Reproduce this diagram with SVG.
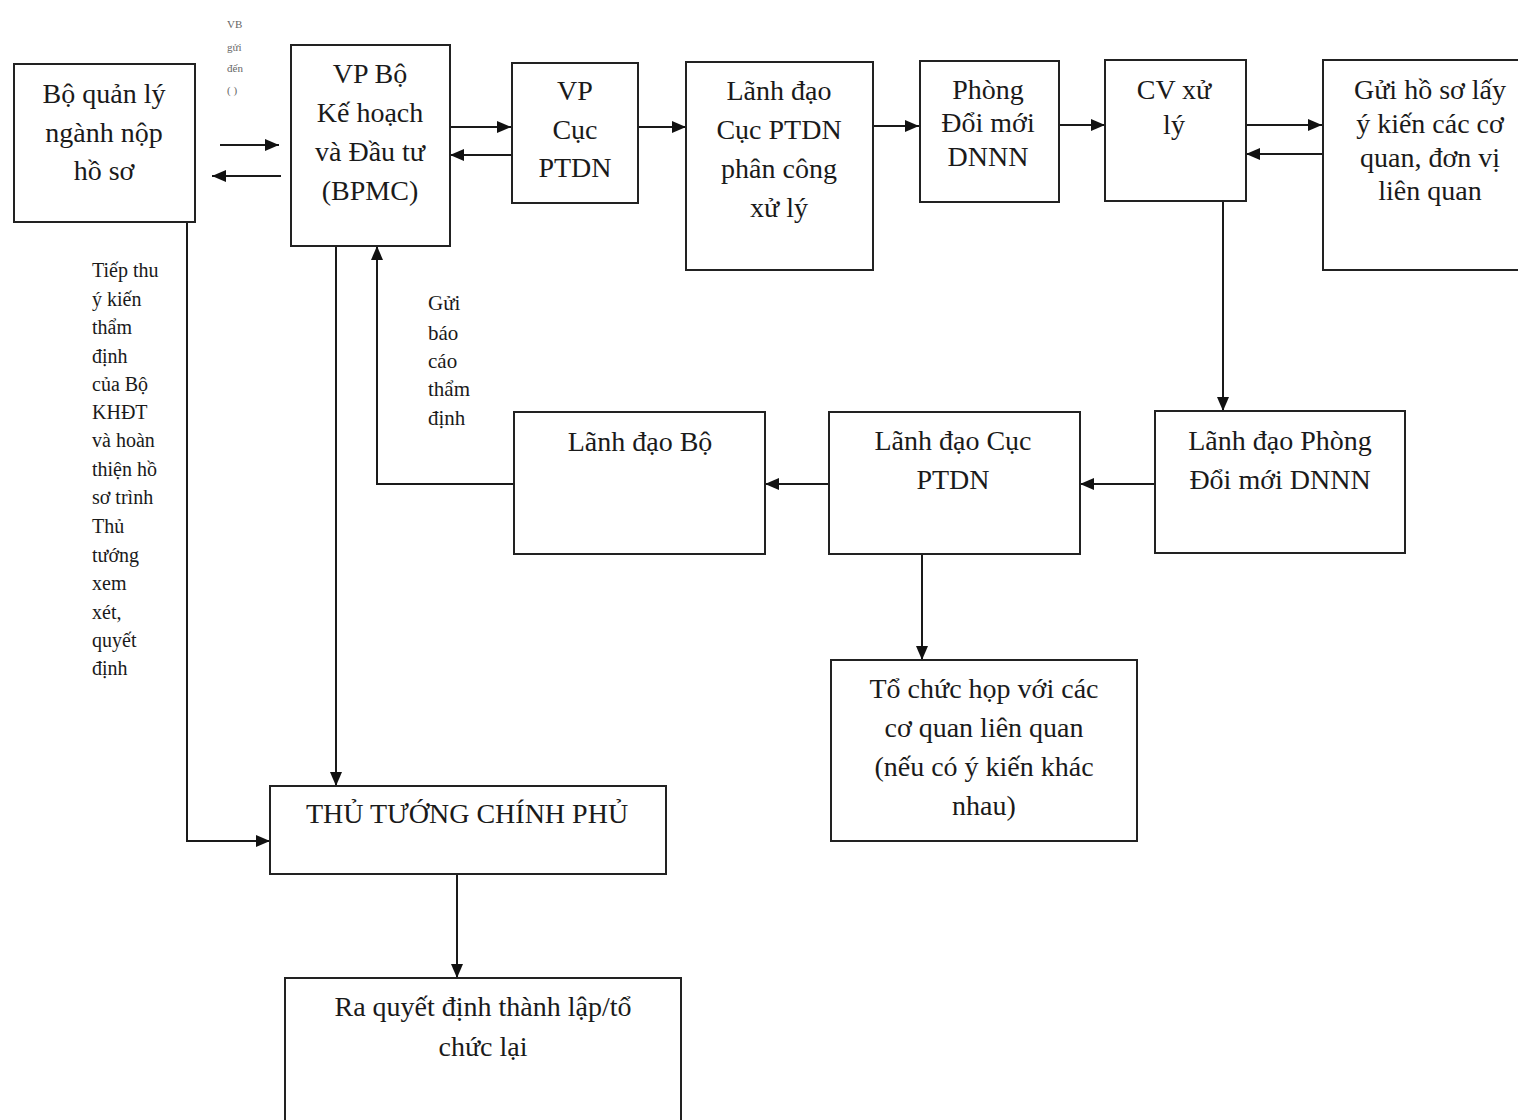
<svg xmlns="http://www.w3.org/2000/svg" width="1518" height="1120" viewBox="0 0 1518 1120">
<defs>
<marker id="ah" viewBox="0 0 14 12" refX="14" refY="6" markerWidth="14" markerHeight="12" markerUnits="userSpaceOnUse" orient="auto">
<path d="M0,0 L14,6 L0,12 z" fill="#111"/>
</marker>
</defs>
<style>
rect.box{fill:#fff;stroke:#222;stroke-width:2}
text{font-family:"Liberation Serif","Times New Roman",serif;fill:#1a1a1a}
.t{font-size:28px;text-anchor:middle}
.s{font-size:20px}
.s2{font-size:21px}
.xs{font-size:11px;fill:#666}
.c line,.c path{stroke:#1a1a1a;stroke-width:2;fill:none}
.c .a{marker-end:url(#ah)}
</style>
<rect width="1518" height="1120" fill="#fff"/>

<g class="c" id="connectors">
<line class="a" x1="220" y1="145" x2="279" y2="145"/>
<line class="a" x1="281" y1="176" x2="212" y2="176"/>
<line class="a" x1="450" y1="127" x2="511" y2="127"/>
<line class="a" x1="511" y1="155" x2="450" y2="155"/>
<line class="a" x1="638" y1="127" x2="686" y2="127"/>
<line class="a" x1="873" y1="126" x2="919" y2="126"/>
<line class="a" x1="1059" y1="125" x2="1105" y2="125"/>
<line class="a" x1="1246" y1="125" x2="1322" y2="125"/>
<line class="a" x1="1322" y1="154" x2="1246" y2="154"/>
<line class="a" x1="1223" y1="201" x2="1223" y2="411"/>
<line class="a" x1="1155" y1="484" x2="1080" y2="484"/>
<line class="a" x1="829" y1="484" x2="765" y2="484"/>
<path class="a" d="M514,484 H377 V246"/>
<line class="a" x1="922" y1="554" x2="922" y2="660"/>
<line class="a" x1="336" y1="246" x2="336" y2="786"/>
<path class="a" d="M187,222 V841 H270"/>
<line class="a" x1="457" y1="874" x2="457" y2="978"/>
</g>

<g id="n1"><rect class="box" x="14" y="64" width="181" height="158"/>
<text class="t" x="104"><tspan x="104" y="103">Bộ quản lý</tspan><tspan x="104" y="142">ngành nộp</tspan><tspan x="104" y="180">hồ sơ</tspan></text></g>

<g id="n2"><rect class="box" x="291" y="45" width="159" height="201"/>
<text class="t"><tspan x="370" y="83">VP Bộ</tspan><tspan x="370" y="122">Kế hoạch</tspan><tspan x="370" y="161">và Đầu tư</tspan><tspan x="370" y="200">(BPMC)</tspan></text></g>

<g id="n3"><rect class="box" x="512" y="63" width="126" height="140"/>
<text class="t"><tspan x="575" y="100">VP</tspan><tspan x="575" y="139">Cục</tspan><tspan x="575" y="177">PTDN</tspan></text></g>

<g id="n4"><rect class="box" x="686" y="62" width="187" height="208"/>
<text class="t"><tspan x="779" y="100">Lãnh đạo</tspan><tspan x="779" y="139">Cục PTDN</tspan><tspan x="779" y="178">phân công</tspan><tspan x="779" y="217">xử lý</tspan></text></g>

<g id="n5"><rect class="box" x="920" y="61" width="139" height="141"/>
<text class="t"><tspan x="988" y="99">Phòng</tspan><tspan x="988" y="132">Đổi mới</tspan><tspan x="988" y="166">DNNN</tspan></text></g>

<g id="n6"><rect class="box" x="1105" y="60" width="141" height="141"/>
<text class="t"><tspan x="1174" y="99">CV xử</tspan><tspan x="1174" y="134">lý</tspan></text></g>

<g id="n7"><rect class="box" x="1323" y="60" width="200" height="210"/>
<text class="t"><tspan x="1430" y="99">Gửi hồ sơ lấy</tspan><tspan x="1430" y="133">ý kiến các cơ</tspan><tspan x="1430" y="167">quan, đơn vị</tspan><tspan x="1430" y="200">liên quan</tspan></text></g>

<g id="n8"><rect class="box" x="514" y="412" width="251" height="142"/>
<text class="t" x="640" y="451">Lãnh đạo Bộ</text></g>

<g id="n9"><rect class="box" x="829" y="412" width="251" height="142"/>
<text class="t"><tspan x="953" y="450">Lãnh đạo Cục</tspan><tspan x="953" y="489">PTDN</tspan></text></g>

<g id="n10"><rect class="box" x="1155" y="411" width="250" height="142"/>
<text class="t"><tspan x="1280" y="450">Lãnh đạo Phòng</tspan><tspan x="1280" y="489">Đổi mới DNNN</tspan></text></g>

<g id="n11"><rect class="box" x="831" y="660" width="306" height="181"/>
<text class="t"><tspan x="984" y="698">Tổ chức họp với các</tspan><tspan x="984" y="737">cơ quan liên quan</tspan><tspan x="984" y="776">(nếu có ý kiến khác</tspan><tspan x="984" y="815">nhau)</tspan></text></g>

<g id="n12"><rect class="box" x="270" y="786" width="396" height="88"/>
<text class="t" x="467" y="823">THỦ TƯỚNG CHÍNH PHỦ</text></g>

<g id="n13"><rect class="box" x="285" y="978" width="396" height="150"/>
<text class="t"><tspan x="483" y="1016">Ra quyết định thành lập/tổ</tspan><tspan x="483" y="1056">chức lại</tspan></text></g>

<g id="labels">
<text class="xs"><tspan x="227" y="28">VB</tspan><tspan x="227" y="51">gửi</tspan><tspan x="227" y="72">đến</tspan><tspan x="227" y="94">( )</tspan></text>
<text class="s"><tspan x="92" y="277">Tiếp thu</tspan><tspan x="92" y="306">ý kiến</tspan><tspan x="92" y="334">thẩm</tspan><tspan x="92" y="363">định</tspan><tspan x="92" y="391">của Bộ</tspan><tspan x="92" y="419">KHĐT</tspan><tspan x="92" y="447">và hoàn</tspan><tspan x="92" y="476">thiện hồ</tspan><tspan x="92" y="504">sơ trình</tspan><tspan x="92" y="533">Thủ</tspan><tspan x="92" y="562">tướng</tspan><tspan x="92" y="590">xem</tspan><tspan x="92" y="619">xét,</tspan><tspan x="92" y="647">quyết</tspan><tspan x="92" y="675">định</tspan></text>
<text class="s2"><tspan x="428" y="310">Gửi</tspan><tspan x="428" y="340">báo</tspan><tspan x="428" y="368">cáo</tspan><tspan x="428" y="396">thẩm</tspan><tspan x="428" y="425">định</tspan></text>
</g>
</svg>
